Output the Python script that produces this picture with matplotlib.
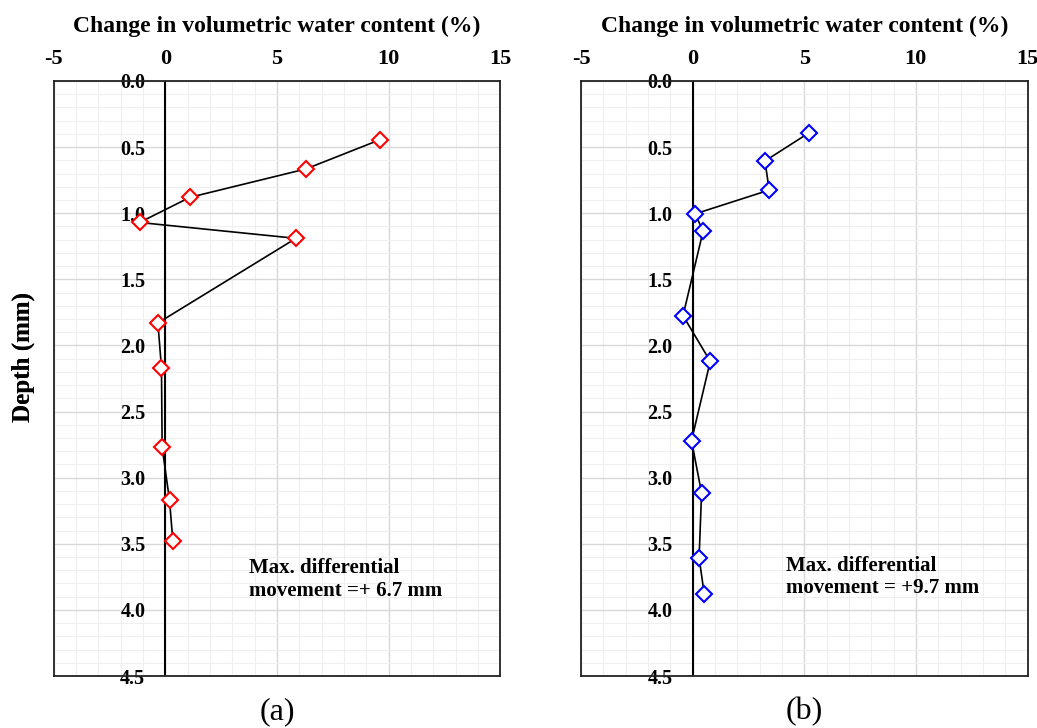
import matplotlib
matplotlib.use("Agg")
import matplotlib.pyplot as plt
from matplotlib.ticker import MultipleLocator, FormatStrFormatter

plt.rcParams['font.family'] = ['Liberation Serif', 'DejaVu Serif']
plt.rcParams['axes.unicode_minus'] = False

# Data: (a) red series
vwc_a = [9.6, 6.3, 1.1, -1.15, 5.85, -0.33, -0.17, -0.14, 0.19, 0.34]
depth_a = [0.445, 0.665, 0.88, 1.07, 1.19, 1.83, 2.17, 2.77, 3.17, 3.48]
# (b) blue series
vwc_b = [5.23, 3.24, 3.43, 0.11, 0.47, -0.43, 0.79, -0.05, 0.40, 0.29, 0.52]
depth_b = [0.39, 0.605, 0.825, 1.005, 1.135, 1.775, 2.12, 2.72, 3.115, 3.605, 3.88]

xticks = [-5, 0, 5, 10, 15]
yticks = [0.0, 0.5, 1.0, 1.5, 2.0, 2.5, 3.0, 3.5, 4.0, 4.5]
xlabel = "Change in volumetric water content (%)"
ylabel = "Depth (mm)"
notes = ["Max. differential\nmovement =+ 6.7 mm", "Max. differential\nmovement = +9.7 mm"]
note_pos = [(3.75, 3.77), (4.18, 3.75)]
panel_labels = ["(a)", "(b)"]

W, H = 1037, 728
fig = plt.figure(figsize=(W / 100, H / 100), dpi=100)

axes_px = [(53.6, 500.3), (581.0, 1027.5)]
top_px, bot_px = 81.0, 676.0

series = [(vwc_a, depth_a, 'red'), (vwc_b, depth_b, 'blue')]

for i, ((l, r), (xs, ys, col)) in enumerate(zip(axes_px, series)):
    ax = fig.add_axes([l / W, 1 - bot_px / H, (r - l) / W, (bot_px - top_px) / H])
    ax.set_xlim(-5, 15)
    ax.set_ylim(4.5, 0)
    ax.set_xticks(xticks)
    ax.set_yticks(yticks)
    ax.xaxis.set_minor_locator(MultipleLocator(1))
    ax.yaxis.set_minor_locator(MultipleLocator(0.1))
    ax.yaxis.set_major_formatter(FormatStrFormatter('%.1f'))
    ax.xaxis.tick_top()
    ax.xaxis.set_label_position('top')
    ax.grid(which='major', color='#d8d8d8', lw=1.0)
    ax.grid(which='minor', color='#efefef', lw=0.8)
    ax.set_axisbelow(True)
    ax.tick_params(axis='x', which='both', length=0, pad=9, labelsize=16)
    pad_pt = -((l + (0 - (-5)) * (r - l) / 20 - 20) - l) * 72 / 100
    ax.tick_params(axis='y', which='both', length=0, pad=pad_pt, labelsize=14.5)
    for lab in ax.get_xticklabels() + ax.get_yticklabels():
        lab.set_fontweight('bold')
    for sp in ax.spines.values():
        sp.set_color('#222222')
        sp.set_linewidth(1.3)
    ax.axvline(0, color='black', lw=1.5, zorder=2)
    ax.plot(xs, ys, color='black', lw=1.2, marker='D', markersize=8.5,
            markerfacecolor='white', markeredgecolor=col, markeredgewidth=1.5, zorder=3)
    ax.set_xlabel(xlabel, fontsize=17, fontweight='bold', labelpad=12)
    ax.set_ylabel(ylabel, fontsize=18, fontweight='bold')
    ax.yaxis.set_label_coords(-(l - 35) / (r - l), 1 - (357 - top_px) / (bot_px - top_px))
    ax.text(note_pos[i][0], note_pos[i][1], notes[i], fontsize=15, fontweight='bold',
            ha='left', va='center', linespacing=1.15)
    fig.text(((l + r) / 2) / W, 1 - 712 / H, panel_labels[i], fontsize=23,
             ha='center', va='center')

fig.savefig('out.png', dpi=100)
